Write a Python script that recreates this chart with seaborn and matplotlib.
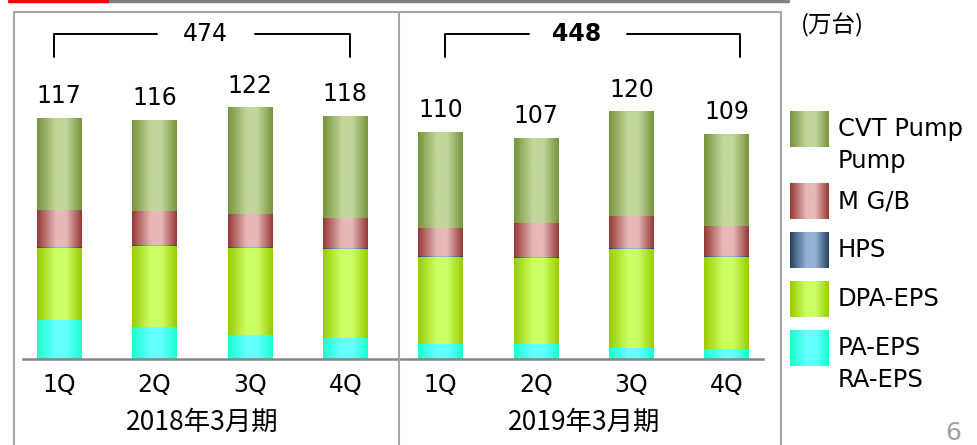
import numpy as np
import pandas as pd
import matplotlib.pyplot as plt
import seaborn as sns
from matplotlib.colors import LinearSegmentedColormap
from matplotlib.lines import Line2D
from matplotlib.transforms import blended_transform_factory

# data (万台)
quarters = ['1Q', '2Q', '3Q', '4Q', '1Q', '2Q', '3Q', '4Q']
periods = ['2018年3月期', '2019年3月期']
totals = [117, 116, 122, 118, 110, 107, 120, 109]
group_totals = [474, 448]

pa_eps = [19, 15.5, 11.5, 10, 7.5, 7.5, 5.5, 5]
dpa_eps = [35, 39.5, 42.5, 43.5, 42, 41.5, 48, 44.5]
hps = [0.5, 0.5, 0.5, 0.5, 0.5, 0.5, 0.5, 0.5]
mgb = [18, 16.5, 16, 14.5, 13.5, 16.5, 15.5, 14.5]
cvt_pump = [44.5, 44, 51.5, 49.5, 46.5, 41, 50.5, 44.5]

series_names = ['PA-EPS\nRA-EPS', 'DPA-EPS', 'HPS', 'M G/B', 'CVT Pump\nPump']
series_values = [pa_eps, dpa_eps, hps, mgb, cvt_pump]
# (edge colour, centre colour) for the cylinder look
series_colors = [('#19FFD0', '#66FFFF'),
                 ('#99CC00', '#CCFF66'),
                 ('#254061', '#95B3D7'),
                 ('#953735', '#E6B9B8'),
                 ('#77933C', '#C3D69B')]

W, H = 977, 445


def cyl_cmap(edge, centre):
    return LinearSegmentedColormap.from_list(
        'cyl', [(0, edge), (0.42, centre), (0.65, centre), (1, edge)])


grad = np.linspace(0, 1, 256).reshape(1, -1)

sns.set_style('white')
plt.rcParams['font.family'] = ['DejaVu Sans', 'Noto Sans CJK JP']
plt.rcParams['text.color'] = 'black'
plt.rcParams['xtick.color'] = 'black'

fig = plt.figure(figsize=(W / 100, H / 100), dpi=100)
ax = fig.add_axes([23 / W, 86 / H, 740 / W, (359 - 12) / H])

keys = [f'{periods[i // 4]}-{q}' for i, q in enumerate(quarters)]
cum = np.cumsum(np.array(series_values), axis=0)
df = pd.DataFrame({'key': keys})

# draw cumulative bars from the top layer down so the lower ones sit in front
containers = {}
for i in reversed(range(len(series_names))):
    df['val'] = cum[i]
    sns.barplot(data=df, x='key', y='val', order=keys, color=series_colors[i][0],
                width=0.47, ax=ax, errorbar=None, saturation=1)
    containers[i] = ax.containers[-1]

# overlay cylinder gradients on each segment
for i in range(len(series_names)):
    cmap = cyl_cmap(*series_colors[i])
    for j, p in enumerate(containers[i].patches):
        bottom = cum[i - 1][j] if i > 0 else 0
        ax.imshow(grad, cmap=cmap, aspect='auto', interpolation='bicubic',
                  extent=[p.get_x(), p.get_x() + p.get_width(), bottom, p.get_height()],
                  zorder=3)

ax.set_xlim(-0.38, 7.38)
ax.set_ylim(0, 168.4)

# total labels
for j, t in enumerate(totals):
    ax.text(j, cum[-1][j] + 7.3, str(t), ha='center', va='baseline', fontsize=17,
            color='black')

# brackets over each fiscal year
for (x0, x1, xt), gt, bold in zip([(-0.05, 3.05, 1.53), (4.05, 7.14, 5.43)],
                                   group_totals, [False, True]):
    ax.plot([x0, x0, xt - 0.5], [146.6, 157.8, 157.8], color='black', lw=1.4,
            clip_on=False)
    ax.plot([xt + 0.52, x1, x1], [157.8, 157.8, 146.6], color='black', lw=1.4,
            clip_on=False)
    ax.text(xt, 157.8, str(gt), ha='center', va='center', fontsize=17,
            color='black', fontweight='bold' if bold else 'normal')

ax.set_xticks(range(len(quarters)))
ax.set_xticklabels(quarters, fontsize=17, color='black')
ax.tick_params(axis='x', length=0, pad=10)
ax.set_yticks([])
ax.set_xlabel('')
ax.set_ylabel('')
for s in ['left', 'right', 'top']:
    ax.spines[s].set_visible(False)
ax.spines['bottom'].set_color('#868686')
ax.spines['bottom'].set_linewidth(1.8)
ax.spines['bottom'].set_zorder(5)

trans = blended_transform_factory(ax.transData, fig.transFigure)
for k, p in enumerate(periods):
    ax.text(1.5 + 4 * k, 1 - 422 / H, p, transform=trans, ha='center',
            va='center', fontsize=19, color='black', family=['Noto Sans CJK JP'])


def fline(xs, ys, color, lw):
    fig.add_artist(Line2D([x / W for x in xs], [1 - y / H for y in ys],
                          transform=fig.transFigure, color=color, lw=lw))


# frame around the two year panels
fline([14, 781], [12, 12], '#A6A6A6', 1.5)
for x in [14, 399, 781]:
    fline([x, x], [12, 445], '#A6A6A6', 1.5)
# header rule
fline([107, 788], [1.2, 1.2], '#808080', 2.5)
fline([9, 107], [1.2, 1.2], '#FF0000', 2.5)

# legend with gradient swatches
sw_tops = [111, 183, 232, 281, 330]
for top, i in zip(sw_tops, reversed(range(len(series_names)))):
    sax = fig.add_axes([790 / W, 1 - (top + 36) / H, 39 / W, 36 / H])
    sax.imshow(grad, cmap=cyl_cmap(*series_colors[i]), aspect='auto',
               interpolation='bicubic')
    sax.axis('off')
    for n, line in enumerate(series_names[i].split('\n')):
        fig.text(838 / W, 1 - (top + 18 + n * 32) / H, line, ha='left',
                 va='center', fontsize=17.5, color='black')

fig.text(801 / W, 1 - 25 / H, '(万台)', ha='left', va='center', fontsize=17,
         color='black', family=['Noto Sans CJK JP'])
fig.text(953 / W, 1 - 433 / H, '6', ha='center', va='center', fontsize=18,
         color='#A0A0A0')

fig.savefig('out.png', dpi=100)
